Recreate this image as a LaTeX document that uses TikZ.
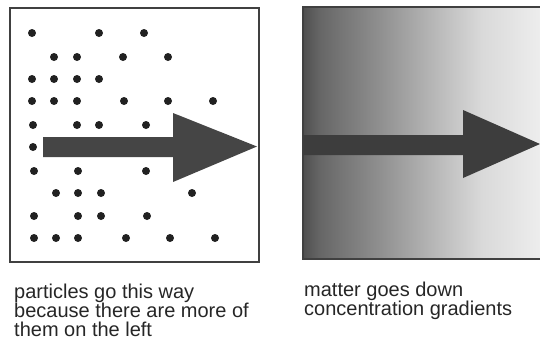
\documentclass[tikz,border=0pt]{standalone}
\usepackage{fontspec}
\setmainfont{Liberation Sans}
\definecolor{gA}{gray}{0.31}
\definecolor{gB}{gray}{0.40}
\definecolor{gC}{gray}{0.46}
\definecolor{gD}{gray}{0.56}
\definecolor{gE}{gray}{0.71}
\definecolor{gF}{gray}{0.85}
\definecolor{gG}{gray}{0.93}
\definecolor{dotcol}{gray}{0.13}
\definecolor{arrowcol}{gray}{0.27}
\definecolor{arrowcolB}{gray}{0.24}
\definecolor{framecol}{gray}{0.25}
\pgfdeclarehorizontalshading{concgrad}{100bp}{color(0bp)=(gA); color(25bp)=(gA); color(28.5bp)=(gB); color(33bp)=(gC); color(41bp)=(gD); color(52bp)=(gE); color(62.5bp)=(gF); color(75bp)=(gG); color(100bp)=(gG)}
\tikzset{
  particle/.style={fill=dotcol, draw=none},
  panel/.style={draw=framecol, line width=1.3pt},
  bigarrow/.style={fill=arrowcol, draw=none},
  caption/.style={anchor=base west, inner sep=0pt, font=\fontsize{20}{19}\selectfont, text=black!85}
}
\begin{document}
\begin{tikzpicture}[x=1pt,y=-1pt]
\useasboundingbox (0,0) rectangle (540,341);
% left panel
\draw[panel] (10,8) rectangle (259,262);
\foreach \px/\py in {32/33,99/33,144/33,
  54/57,77/57,123/57,168/57,
  32/79,54/79,77/79,99/79,
  32/101,54/101,77/101,124/101,168/101,213/101,
  33/125,77/125,99/125,146/125,
  33/147,
  34/171,78/171,146/171,
  56/193,78/193,101/193,192/193,
  34/216,78/216,101/216,147/216,
  34/238,56/238,78/238,126/238,170/238,215/238}
  \fill[particle] (\px,\py) circle (4);
\fill[bigarrow] (43,137) -- (173,137) -- (173,113) -- (257,146.5) -- (173,182) -- (173,157) -- (43,157) -- cycle;
% right panel
\shade[shading=concgrad] (303,7) rectangle (540,259);
\draw[framecol, line width=1.3pt] (540,7) -- (303,7) -- (303,259) -- (540,259);
\fill[arrowcolB] (303,135) -- (463,135) -- (463,110) -- (540,144) -- (463,178) -- (463,155) -- (303,155) -- cycle;
% captions
\node[caption] (l1) at (14,298) {particles go this way};
\node[caption] (l2) at (14,317) {because there are more of};
\node[caption] (l3) at (14,336) {them on the left};
\node[caption] (r1) at (304,296.5) {matter goes down};
\node[caption] (r2) at (304,315.5) {concentration gradients};
\end{tikzpicture}
\end{document}
